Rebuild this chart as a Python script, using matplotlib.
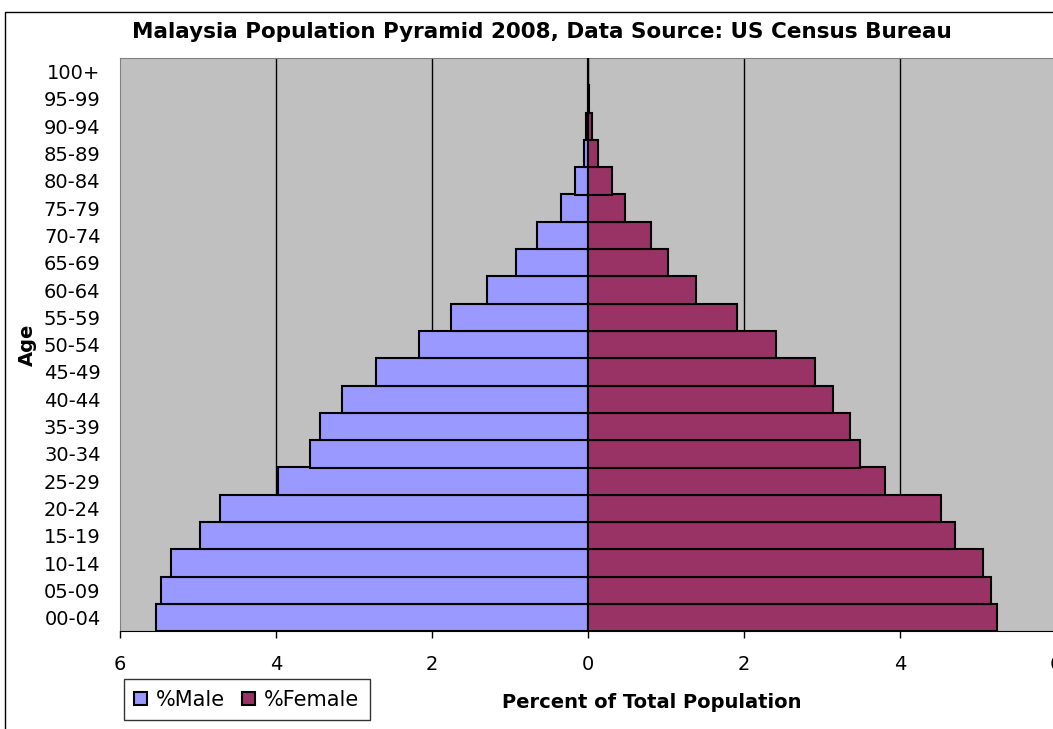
import matplotlib
matplotlib.use('Agg')
import matplotlib.pyplot as plt
from matplotlib.patches import Rectangle
import numpy as np

plt.rcParams['font.family'] = ['DejaVu Sans']

# age groups, bottom to top
ages = ['00-04', '05-09', '10-14', '15-19', '20-24', '25-29', '30-34',
        '35-39', '40-44', '45-49', '50-54', '55-59', '60-64', '65-69',
        '70-74', '75-79', '80-84', '85-89', '90-94', '95-99', '100+']
male = [5.54, 5.47, 5.34, 4.97, 4.72, 3.97, 3.57,
        3.43, 3.15, 2.72, 2.17, 1.75, 1.30, 0.92,
        0.65, 0.34, 0.17, 0.05, 0.02, 0.004, 0.0]
female = [5.24, 5.17, 5.07, 4.71, 4.52, 3.81, 3.49,
          3.36, 3.14, 2.91, 2.41, 1.91, 1.38, 1.03,
          0.81, 0.48, 0.31, 0.13, 0.055, 0.01, 0.0]
xticks = [-6, -4, -2, 0, 2, 4, 6]

W, H = 1053, 729
fig = plt.figure(figsize=(W / 100, H / 100), dpi=100)
fig.patches.append(Rectangle((5 / W, -0.1), 1.2, 1.1 - 12 / H, transform=fig.transFigure,
                             fill=False, edgecolor='black', linewidth=1))

ax = fig.add_axes([120 / W, (H - 631.3) / H, (1056 - 120) / W, (631.3 - 58) / H])
ax.set_facecolor('#C0C0C0')

y = np.arange(len(ages))
ax.barh(y, -np.array(male), height=1.0, color='#9999FF', edgecolor='black',
        linewidth=1.5, label='%Male', zorder=3)
ax.barh(y, female, height=1.0, color='#993366', edgecolor='black',
        linewidth=1.5, label='%Female', zorder=3)

ax.set_xlim(-6, 6)
ax.set_ylim(-0.5, len(ages) - 0.5)
ax.set_xticks(xticks)
ax.set_xticklabels([str(abs(t)) for t in xticks])
ax.set_yticks(y)
ax.set_yticklabels(ages)
for t in xticks[1:-1]:
    ax.axvline(t, color='black', linewidth=1, zorder=1)

ax.tick_params(axis='y', length=0, pad=14, labelsize=14)
ax.tick_params(axis='x', length=5, width=1, direction='out', pad=12, labelsize=14)
for s in ['left', 'top']:
    ax.spines[s].set_color('#808080')
ax.spines['right'].set_visible(False)
ax.spines['bottom'].set_color('black')

fig.text(542 / W, 1 - 32 / H, 'Malaysia Population Pyramid 2008, Data Source: US Census Bureau',
         ha='center', va='center', fontsize=15.5, fontweight='bold')
fig.text(652 / W, 1 - 702 / H, 'Percent of Total Population', ha='center', va='center',
         fontsize=14, fontweight='bold')
fig.text(27 / W, 1 - 345 / H, 'Age', ha='center', va='center', rotation=90,
         fontsize=14, fontweight='bold')

leg = fig.legend(loc='lower left', bbox_to_anchor=(124 / W, 1 - 720 / H), ncol=2,
                 fontsize=15, frameon=True, fancybox=False, borderaxespad=0,
                 handlelength=0.6, handleheight=0.6, handletextpad=0.45,
                 columnspacing=0.8, borderpad=0.5)
leg.get_frame().set_edgecolor('black')
leg.get_frame().set_linewidth(1)

fig.savefig('out.png', dpi=100)
